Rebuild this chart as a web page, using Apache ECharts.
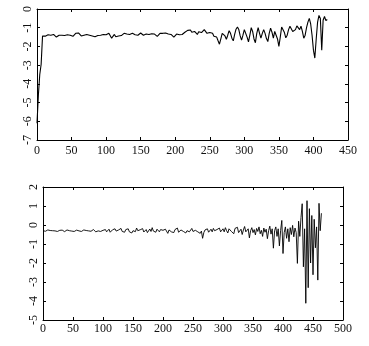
<!DOCTYPE html>
<html>
<head>
<meta charset="utf-8">
<script src="https://cdn.jsdelivr.net/npm/echarts@6/dist/echarts.min.js"></script>
<style>html,body{margin:0;padding:0;background:#fff}#c{width:369px;height:346px}</style>
</head>
<body>
<div id="c"></div>
<script>
// Top panel: values sampled every 2 units of x, starting at x = 0
const topStep = 2;
const topY = [
-6.1,-4.6,-3.5,-2.95,-1.45,
-1.40,-1.45,-1.42,-1.38,-1.46,-1.40,-1.44,-1.36,-1.42,-1.50,
-1.44,-1.40,-1.35,-1.40,-1.46,-1.42,-1.32,-1.38,-1.45,-1.40,
-1.44,-1.46,-1.38,-1.30,-1.40,-1.28,-1.36,-1.44,-1.34,-1.40,
-1.46,-1.36,-1.42,-1.40,-1.34,-1.44,-1.40,-1.48,-1.38,-1.42,
-1.32,-1.40,-1.44,-1.36,-1.42,-1.38,-1.44,-1.30,-1.40,-1.56,
-1.46,-1.36,-1.48,-1.40,-1.44,-1.34,-1.42,-1.38,-1.30,-1.40,
-1.34,-1.28,-1.36,-1.42,-1.30,-1.22,-1.38,-1.30,-1.40,-1.34,
-1.28,-1.36,-1.40,-1.30,-1.34,-1.40,-1.36,-1.44,-1.32,-1.38,
-1.34,-1.42,-1.46,-1.36,-1.30,-1.24,-1.30,-1.20,-1.28,-1.18,
-1.34,-1.26,-1.36,-1.40,-1.50,-1.46,-1.34,-1.28,-1.38,-1.46,
-1.36,-1.30,-1.24,-1.30,-1.14,-1.04,-1.12,-1.24,-1.30,-1.20,
-1.30,-1.36,-1.22,-1.16,-1.26,-1.20,-1.10,-1.18,-1.30,-1.40,
-1.26,-1.18,-1.30,-1.46,-1.56,-1.50,-1.70,-1.88,-1.60,-1.30,
-1.20,-1.44,-1.62,-1.40,-1.16,-1.30,-1.56,-1.70,-1.36,-1.08,
-0.96,-1.10,-1.44,-1.66,-1.40,-1.10,-1.20,-1.50,-1.76,-1.40,
-1.00,-1.20,-1.60,-1.80,-1.30,-1.00,-1.30,-1.56,-1.30,-1.10,
-1.30,-1.58,-1.74,-1.30,-1.02,-1.24,-1.56,-1.20,-1.10,-1.60,
-2.00,-1.50,-0.96,-1.00,-1.26,-1.54,-1.40,-1.10,-0.92,-0.96,
-1.20,-1.30,-1.10,-0.90,-0.84,-1.10,-0.92,-1.20,-1.56,-1.40,
-1.00,-0.70,-0.50,-0.80,-1.40,-2.20,-2.62,-1.60,-0.70,-0.34,
-0.50,-2.20,-0.60,-0.40,-0.62,-0.56
];
// Bottom panel: values sampled every 2 units of x, starting at x = 0
const botStep = 2;
const botY = [
-0.30,-0.28,-0.33,-0.30,-0.26,-0.32,-0.29,-0.35,-0.30,-0.27,
-0.31,-0.29,-0.34,-0.30,-0.28,-0.32,-0.27,-0.31,-0.35,-0.30,
-0.26,-0.33,-0.30,-0.36,-0.32,-0.29,-0.34,-0.30,-0.27,-0.33,
-0.31,-0.28,-0.34,-0.30,-0.26,-0.32,-0.29,-0.35,-0.31,-0.27,
-0.33,-0.30,-0.24,-0.32,-0.36,-0.29,-0.31,-0.27,-0.34,-0.30,
-0.28,
-0.34,-0.24,-0.36,-0.28,-0.22,-0.38,-0.30,-0.25,-0.35,-0.20,
-0.32,-0.40,-0.26,-0.30,-0.18,-0.34,-0.28,-0.38,-0.24,-0.31,
-0.20,-0.36,-0.27,-0.42,-0.30,-0.22,-0.35,-0.16,-0.30,-0.38,
-0.25,-0.33,-0.19,-0.37,-0.28,-0.24,-0.40,-0.30,-0.21,-0.34,
-0.14,-0.32,-0.26,-0.38,-0.22,-0.30,-0.36,-0.24,-0.33,-0.28,
-0.38,-0.22,-0.32,-0.44,-0.26,-0.18,-0.36,-0.28,-0.40,-0.24,
-0.30,-0.16,-0.38,-0.46,-0.26,-0.20,-0.34,-0.28,-0.42,-0.30,
-0.22,-0.36,-0.26,-0.18,-0.34,-0.40,-0.28,-0.24,-0.36,-0.30,
-0.44,-0.32,-0.70,-0.40,-0.26,-0.34,-0.20,-0.38,-0.28,-0.22,
-0.36,-0.18,-0.30,-0.40,-0.24,-0.32,-0.16,-0.36,-0.26,-0.20,
-0.36,-0.14,-0.30,-0.42,-0.20,-0.10,-0.34,-0.24,-0.46,-0.18,
-0.28,-0.12,-0.40,-0.30,-0.22,-0.50,-0.26,-0.08,-0.36,-0.44,
-0.20,-0.68,-0.30,-0.14,-0.40,-0.24,-0.52,-0.18,-0.34,-0.10,
-0.46,-0.28,-0.60,-0.16,-0.38,-0.22,-0.72,-0.30,-0.06,-0.48,
-0.20,-1.22,-0.30,-0.10,-0.60,-0.20,-1.10,-0.30,0.24,-1.50,
-0.40,-0.10,-0.70,-0.20,-0.88,-0.14,-0.50,-0.02,-0.62,-0.16,
-0.40,-2.02,0.20,-0.60,0.40,1.12,-2.20,-0.20,-4.12,1.28,
-3.30,0.86,-2.00,0.50,-2.62,0.30,-1.20,-0.10,-2.90,1.14,
-0.30,0.62
];
const topXTicks = {min: 0, max: 450, interval: 50};
const topYTicks = {min: -7, max: 0, interval: 1};
const botXTicks = {min: 0, max: 500, interval: 50};
const botYTicks = {min: -5, max: 2, interval: 1};

const font = {fontFamily: 'Liberation Serif', fontSize: 12, color: '#111'};
const line = {show: true, lineStyle: {color: '#000', width: 1}};
const tick = {show: true, inside: true, length: 3, lineStyle: {color: '#000', width: 1}};

function xAx(grid, t, pos, labels, margin) {
  return Object.assign({type: 'value', gridIndex: grid, position: pos,
    axisLine: Object.assign({onZero: false}, line), axisTick: tick, splitLine: {show: false},
    axisLabel: Object.assign({show: labels, margin: margin, showMinLabel: true, showMaxLabel: true}, font)}, t);
}
function yAx(grid, t, pos, labels, margin) {
  return Object.assign({type: 'value', gridIndex: grid, position: pos,
    axisLine: Object.assign({onZero: false}, line), axisTick: tick, splitLine: {show: false},
    axisLabel: Object.assign({show: labels, margin: margin, rotate: 90, showMinLabel: true, showMaxLabel: true}, font)}, t);
}
const topData = topY.map((v, i) => [i * topStep, v]);
const botData = botY.map((v, i) => [i * botStep, v]);

const chart = echarts.init(document.getElementById('c'), null, {renderer: 'canvas'});
chart.setOption({
  animation: false,
  backgroundColor: '#fff',
  grid: [
    {left: 37, top: 9, width: 311, height: 131},
    {left: 43, top: 187, width: 300, height: 133}
  ],
  xAxis: [
    xAx(0, topXTicks, 'bottom', true, 5),
    xAx(0, topXTicks, 'top', false, 5),
    xAx(1, botXTicks, 'bottom', true, 3),
    xAx(1, botXTicks, 'top', false, 3)
  ],
  yAxis: [
    yAx(0, topYTicks, 'left', true, 3),
    yAx(0, topYTicks, 'right', false, 3),
    yAx(1, botYTicks, 'left', true, 3),
    yAx(1, botYTicks, 'right', false, 3)
  ],
  series: [
    {type: 'line', xAxisIndex: 0, yAxisIndex: 0, data: topData, showSymbol: false,
     lineStyle: {color: '#000', width: 1.1}},
    {type: 'line', xAxisIndex: 2, yAxisIndex: 2, data: botData, showSymbol: false,
     lineStyle: {color: '#000', width: 0.9}}
  ]
});
</script>
</body>
</html>
